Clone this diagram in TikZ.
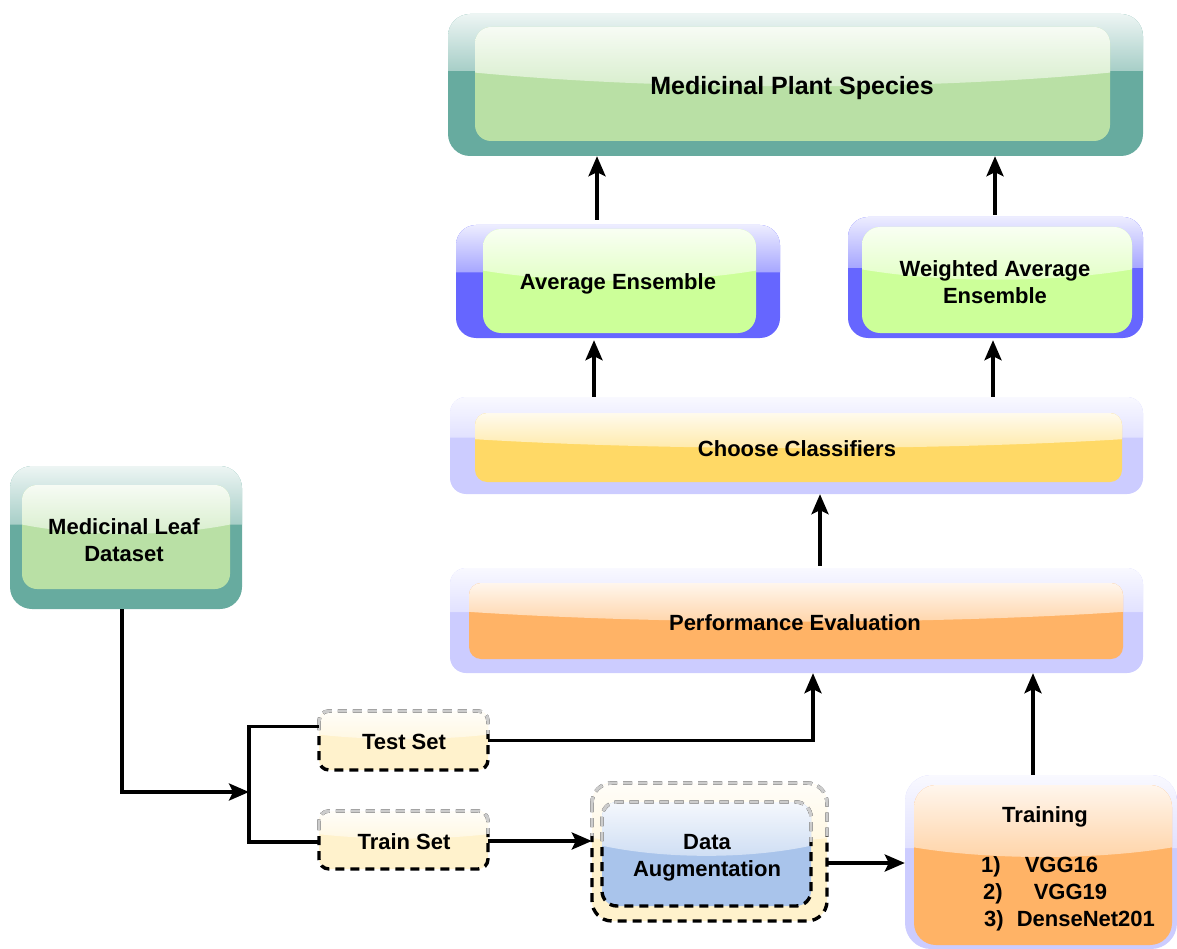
\documentclass[tikz,border=0pt]{standalone}
\usepackage{fontspec}
\setmainfont{Liberation Sans}
\usetikzlibrary{arrows.meta,calc}
\definecolor{tealB}{HTML}{67AB9F}
\definecolor{sage}{HTML}{B9E0A5}
\definecolor{violetB}{HTML}{6666FF}
\definecolor{limeC}{HTML}{CCFF99}
\definecolor{lav}{HTML}{CCCCFF}
\definecolor{gold}{HTML}{FFD966}
\definecolor{orng}{HTML}{FFB366}
\definecolor{cream}{HTML}{FFF2CC}
\definecolor{skyB}{HTML}{A9C4EB}
% glossy rounded box: x1 y1 x2 y2 radius colour side-fraction mid-fraction
\newcommand\glass[8]{%
  \fill[#6,rounded corners=#5] (#1,#2) rectangle (#3,#4);
  \begin{scope}
    \clip[rounded corners=#5] (#1,#2) rectangle (#3,#4);
    \shade[top color=white!88!#6, bottom color=white!42!#6]
      (#1,#2) -- (#1,{#2+#7*(#4-#2)})
      .. controls ({#1+0.3*(#3-#1)},{#2+#8*(#4-#2)}) and ({#1+0.7*(#3-#1)},{#2+#8*(#4-#2)}) .. (#3,{#2+#7*(#4-#2)})
      -- (#3,#2) -- cycle;
  \end{scope}}
% dashed border, grey at the top
\newcommand\dashedge[5]{%
  \draw[dashbd,rounded corners=#5] (#1,#2) rectangle (#3,#4);
  \begin{scope}
    \clip (#1-6,#2-6) rectangle (#3+6,{#2+0.38*(#4-#2)});
    \draw[dashbd,draw=gray!40,rounded corners=#5] (#1,#2) rectangle (#3,#4);
  \end{scope}}
\begin{document}
\begin{tikzpicture}[x=1pt,y=-1pt,
  frame/.style={inner sep=0pt},
  titlefont/.style={font=\bfseries\fontsize{25}{30}\selectfont},
  lbl/.style={inner sep=0pt,align=center,font=\bfseries\fontsize{22}{27}\selectfont},
  dashbd/.style={line width=3.4pt,dash pattern=on 9pt off 6pt,draw=black},
  conn/.style={line width=3.4pt,-{Stealth[length=20pt,width=17pt,inset=4pt]}},
  plainline/.style={line width=3.4pt}]
\useasboundingbox (0,0) rectangle (1177,949);

% Medicinal Plant Species
\glass{448}{14}{1143}{156}{22pt}{tealB}{0.40}{0.40}
\glass{475}{27}{1110}{141}{16pt}{sage}{0.40}{0.56}
\node[frame,minimum width=695pt,minimum height=142pt] (species) at (795.5,85) {};
\node[lbl,titlefont] (speciestxt) at (792,88) {Medicinal Plant Species};

% Average Ensemble
\glass{456}{225}{780}{338}{20pt}{violetB}{0.42}{0.42}
\glass{483}{229}{756}{333}{18pt}{limeC}{0.40}{0.53}
\node[frame,minimum width=324pt,minimum height=113pt] (avg) at (618,281.5) {};
\node[lbl] (avgtxt) at (618,284) {Average Ensemble};

% Weighted Average Ensemble
\glass{848}{217}{1143}{338}{20pt}{violetB}{0.42}{0.42}
\glass{862}{227}{1132}{333}{18pt}{limeC}{0.40}{0.53}
\node[frame,minimum width=295pt,minimum height=121pt] (wavg) at (995.5,277.5) {};
\node[lbl] (wavgtxt) at (995,282) {Weighted Average\\Ensemble};

% Choose Classifiers
\glass{450}{397}{1143}{494}{16pt}{lav}{0.42}{0.42}
\glass{475}{413}{1122}{482}{12pt}{gold}{0.38}{0.55}
\node[frame,minimum width=693pt,minimum height=97pt] (choose) at (796.5,445.5) {};
\node[lbl] (choosetxt) at (797,449) {Choose Classifiers};

% Performance Evaluation
\glass{450}{568}{1143}{673}{16pt}{lav}{0.42}{0.42}
\glass{469}{583}{1123}{659}{12pt}{orng}{0.38}{0.55}
\node[frame,minimum width=693pt,minimum height=105pt] (perf) at (796.5,620.5) {};
\node[lbl] (perftxt) at (795,623) {Performance Evaluation};

% Medicinal Leaf Dataset
\glass{10}{466}{242}{609}{22pt}{tealB}{0.41}{0.41}
\glass{22}{485}{230}{589}{15pt}{sage}{0.38}{0.50}
\node[frame,minimum width=232pt,minimum height=143pt] (leaf) at (126,537.5) {};
\node[lbl] (leaftxt) at (124,540) {Medicinal Leaf\\Dataset};

% Test Set
\glass{319}{711}{488}{770}{10pt}{cream}{0.40}{0.50}
\dashedge{319}{711}{488}{770}{10pt}
\node[frame,minimum width=169pt,minimum height=59pt] (test) at (403.5,740.5) {};
\node[lbl] (testtxt) at (404,742) {Test Set};

% Train Set
\glass{319}{811}{488}{869}{10pt}{cream}{0.40}{0.50}
\dashedge{319}{811}{488}{869}{10pt}
\node[frame,minimum width=169pt,minimum height=58pt] (train) at (403.5,840) {};
\node[lbl] (traintxt) at (404,842) {Train Set};

% Data Augmentation
\glass{592}{783}{827}{921}{20pt}{cream}{0.40}{0.45}
\dashedge{592}{783}{827}{921}{20pt}
\glass{602}{802}{811}{906}{15pt}{skyB}{0.42}{0.55}
\dashedge{602}{802}{811}{906}{15pt}
\node[frame,minimum width=235pt,minimum height=138pt] (aug) at (709.5,852) {};
\node[lbl] (augtxt) at (707,858) {Data\\Augmentation};

% Training
\glass{905}{775}{1177}{949}{26pt}{lav}{0.42}{0.42}
\glass{914}{785}{1172}{945}{22pt}{orng}{0.39}{0.47}
\node[frame,minimum width=272pt,minimum height=174pt] (training) at (1041,862) {};
\node[lbl,anchor=base] (trtitle) at (1045,822) {Training};
\node[lbl,anchor=base west] (trlist) at (981,872) {\begin{tabular}[t]{@{}l@{}}1)\hspace{24pt}VGG16\\\hspace*{2pt}2)\hspace{31pt}VGG19\\\hspace*{3pt}3)\hspace{13pt}DenseNet201\end{tabular}};

% connectors
\coordinate (split) at (249,792);
\coordinate (xl) at (122,0);
\coordinate (xt) at (813,0);
\coordinate (xr) at (1033,0);
\coordinate (xm) at (820,0);
\coordinate (xa) at (594,0);
\coordinate (xw) at (993,0);
\coordinate (xa2) at (597,0);
\coordinate (xw2) at (995,0);
\coordinate (augout) at (827,863);

\draw[conn] (xl |- leaf.south) |- (split);
\draw[plainline] ([yshift=14pt]test.west) -| (split) |- ([yshift=-2pt]train.west);
\draw[conn] (test.east) -| (xt |- perf.south);
\draw[conn] ([yshift=-1pt]train.east) -- ([yshift=-1pt]train.east -| aug.west);
\draw[conn] (augout) -- (augout -| training.west);
\draw[conn] (xr |- training.north) -- (xr |- perf.south);
\draw[conn] ([yshift=2pt]xm |- perf.north) -- (xm |- choose.south);
\draw[conn] (xa |- choose.north) -- ([yshift=-2pt]xa |- avg.south);
\draw[conn] (xw |- choose.north) -- ([yshift=-2pt]xw |- wavg.south);
\draw[conn] ([yshift=5pt]xa2 |- avg.north) -- (xa2 |- species.south);
\draw[conn] ([yshift=2pt]xw2 |- wavg.north) -- (xw2 |- species.south);
\end{tikzpicture}
\end{document}
